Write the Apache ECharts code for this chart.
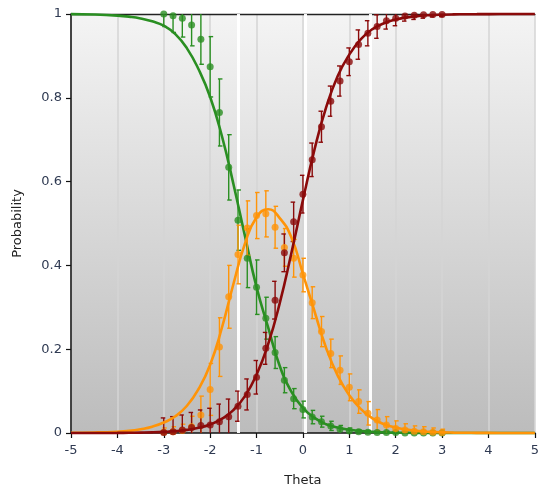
<!DOCTYPE html>
<html>
<head>
<meta charset="utf-8">
<script src="https://cdn.jsdelivr.net/npm/echarts@6/dist/echarts.min.js"></script>
<style>html,body{margin:0;padding:0;background:#fff}#c{width:542px;height:496px}</style>
</head>
<body>
<div id="c"></div>
<script>
// Observed points (theta)
const theta = [-3,-2.8,-2.6,-2.4,-2.2,-2,-1.8,-1.6,-1.4,-1.2,-1,-0.8,-0.6,-0.4,-0.2,0,0.2,0.4,0.6,0.8,1,1.2,1.4,1.6,1.8,2,2.2,2.4,2.6,2.8,3];
const greenPts = [1.0,0.996,0.99,0.974,0.94,0.874,0.765,0.634,0.508,0.417,0.348,0.274,0.192,0.126,0.082,0.056,0.038,0.027,0.017,0.009,0.005,0.003,0.002,0.001,0.001,0.001,0,0,0,0,0];
const greenErr = [0.03,0.04,0.045,0.05,0.06,0.072,0.08,0.078,0.072,0.07,0.065,0.05,0.038,0.03,0.024,0.02,0.016,0.013,0.011,0.009,0.007,0.005,0.004,0.003,0.003,0.002,0.002,0.002,0.002,0.002,0.002];
const orangePts = [0.002,0.003,0.006,0.015,0.043,0.104,0.205,0.325,0.426,0.489,0.519,0.523,0.491,0.443,0.417,0.377,0.311,0.242,0.19,0.15,0.109,0.075,0.047,0.031,0.019,0.011,0.007,0.004,0.003,0.002,0.001];
const orangeErr = [0.01,0.012,0.015,0.025,0.045,0.062,0.07,0.075,0.07,0.065,0.055,0.055,0.05,0.045,0.045,0.04,0.038,0.036,0.034,0.034,0.032,0.028,0.028,0.025,0.02,0.018,0.015,0.013,0.012,0.01,0.008];
const redPts = [0.001,0.003,0.007,0.013,0.018,0.019,0.027,0.039,0.064,0.092,0.133,0.202,0.317,0.43,0.504,0.57,0.652,0.731,0.792,0.84,0.886,0.927,0.954,0.97,0.984,0.99,0.995,0.997,0.998,0.999,0.999];
const redErr = [0.035,0.036,0.036,0.036,0.037,0.04,0.042,0.042,0.036,0.037,0.04,0.038,0.045,0.045,0.047,0.045,0.04,0.037,0.036,0.036,0.033,0.035,0.03,0.028,0.02,0.018,0.012,0.01,0.008,0.006,0.005];

// Model curves
const curveTheta = [-5,-4.5,-4,-3.75,-3.5,-3.25,-3,-2.75,-2.5,-2.25,-2,-1.75,-1.5,-1.25,-1,-0.75,-0.5,-0.25,0,0.25,0.5,0.75,1,1.25,1.5,1.75,2,2.25,2.5,2.75,3,3.25,3.5,3.75,4,4.5,5];
const greenCurve = [0.9996,0.9987,0.9962,0.9937,0.9895,0.9825,0.972,0.952,0.918,0.868,0.802,0.71,0.595,0.47,0.348,0.252,0.16,0.099,0.06,0.036,0.021,0.013,0.008,0.0045,0.0027,0.0016,0.0009,0.0005,0.0003,0.0002,0.0001,0.0001,0,0,0,0,0];
const orangeCurve = [0.0005,0.0012,0.003,0.005,0.009,0.015,0.025,0.04,0.065,0.105,0.163,0.25,0.355,0.452,0.515,0.534,0.513,0.467,0.38,0.29,0.203,0.137,0.09,0.057,0.035,0.021,0.013,0.008,0.0045,0.0027,0.0016,0.001,0.0006,0.0003,0.0002,0.0001,0];
const redCurve = [0,0.0001,0.0003,0.0006,0.001,0.0016,0.0027,0.0044,0.0074,0.0123,0.0204,0.0336,0.0547,0.088,0.139,0.212,0.31,0.429,0.556,0.677,0.777,0.852,0.903,0.94,0.964,0.978,0.987,0.992,0.9953,0.9972,0.9983,0.999,0.9994,0.9996,0.9998,0.9999,1];

const whiteLines = [-1.4, 0.04, 1.46];
const xTicks = [-5,-4,-3,-2,-1,0,1,2,3,4,5];
const yTicks = [0,0.2,0.4,0.6,0.8,1];

const GREEN = '#2a8f22', ORANGE = '#ff9408', RED = '#8b0a0a';
const FONT = 'DejaVu Sans';
const LABEL = '#2f3a52';

function zipCurve(ys){ return curveTheta.map((t,i)=>[t, ys[i]]); }
function zipPts(ys){ return theta.map((t,i)=>[t, ys[i]]); }
function zipErr(ys, es){ return theta.map((t,i)=>[t, ys[i]-es[i], ys[i]+es[i]]); }

function errSeries(name, ys, es, color, capDir){
  return {
    name: name + ' err', type: 'custom', z: 13,
    data: zipErr(ys, es),
    renderItem: function(params, api){
      const x = api.value(0);
      const lo = Math.max(0, api.value(1)), hi = Math.min(1, api.value(2));
      const a = api.coord([x, lo]), b = api.coord([x, hi]);
      const cw = 3;
      const c0 = capDir < 0 ? -cw : -1.5, c1 = capDir < 0 ? 1.5 : cw;
      const st = {stroke: color, lineWidth: 1.4};
      const kids = [{type:'line', shape:{x1:a[0],y1:a[1],x2:b[0],y2:b[1]}, style: st}];
      if (hi < 1) kids.push({type:'line', shape:{x1:b[0]+c0,y1:b[1],x2:b[0]+c1,y2:b[1]}, style: st});
      if (lo > 0) kids.push({type:'line', shape:{x1:a[0]+c0,y1:a[1],x2:a[0]+c1,y2:a[1]}, style: st});
      return {type:'group', children: kids};
    }
  };
}
function curveSeries(name, ys, color, z){
  return {name: name, type:'line', data: zipCurve(ys), smooth: 0.5,
    showSymbol: false, lineStyle:{color: color, width: 2.6}, z: z, clip: false};
}
function ptSeries(name, ys, color, z){
  return {name: name + ' obs', type:'scatter', data: zipPts(ys), symbol:'circle', symbolSize: 7,
    itemStyle:{color: color}, z: z, clip: false};
}

const chart = echarts.init(document.getElementById('c'), null, {renderer:'canvas'});
chart.setOption({
  animation: false,
  backgroundColor: '#ffffff',
  grid: {left: 71, right: 3, top: 14, bottom: 63, show: true, borderWidth: 0,
    backgroundColor: new echarts.graphic.LinearGradient(0,0,0,1,[{offset:0,color:'#f4f4f4'},{offset:1,color:'#bcbcbc'}])},
  xAxis: [{
    type:'value', min:-5, max:5, interval:1,
    name:'Theta', nameLocation:'middle', nameGap: 41,
    nameTextStyle:{color:'#222', fontFamily: FONT, fontSize: 13},
    axisLine:{show:true, onZero:false, lineStyle:{color:'#111', width:1.5}},
    axisTick:{show:true, length:5, lineStyle:{color:'#111', width:1.2}},
    axisLabel:{color: LABEL, fontFamily: FONT, fontSize: 13, margin: 11,
      customValues: xTicks},
    splitLine:{show:true, lineStyle:{color:'#d5d5d5', width:1.5}}
  },{
    type:'value', min:-5, max:5, position:'top',
    axisLine:{show:true, onZero:false, lineStyle:{color:'#222', width:1.3}},
    axisTick:{show:false}, axisLabel:{show:false}, splitLine:{show:false}
  }],
  yAxis: {
    type:'value', min:0, max:1, interval:0.2,
    name:'Probability', nameLocation:'middle', nameGap: 47,
    nameTextStyle:{color:'#222', fontFamily: FONT, fontSize: 13},
    axisLine:{show:true, onZero:false, lineStyle:{color:'#111', width:1.5}},
    axisTick:{show:true, length:5, lineStyle:{color:'#111', width:1.2}},
    axisLabel:{color: LABEL, fontFamily: FONT, fontSize: 13, margin: 9},
    splitLine:{show:false}
  },
  series: [
    {type:'line', data:[], z: 1, markLine:{silent:true, z: 1, symbol:['none','none'], label:{show:false},
      lineStyle:{color:'rgba(255,255,255,0.95)', width:3, type:'solid'},
      data: whiteLines.map(v=>({xAxis: v}))}},
    curveSeries('P0', greenCurve, GREEN, 10),
    errSeries('P0', greenPts, greenErr, GREEN, 1),
    ptSeries('P0', greenPts, GREEN, 14),
    curveSeries('P1', orangeCurve, ORANGE, 15),
    errSeries('P1', orangePts, orangeErr, ORANGE, 1),
    ptSeries('P1', orangePts, ORANGE, 17),
    curveSeries('P2', redCurve, RED, 18),
    errSeries('P2', redPts, redErr, RED, -1),
    ptSeries('P2', redPts, RED, 20)
  ]
});
</script>
</body>
</html>
